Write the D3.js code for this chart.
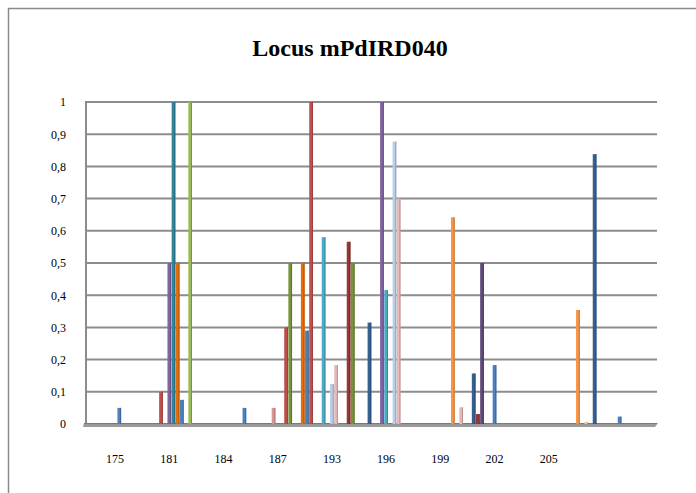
<!DOCTYPE html>
<html>
<head>
<meta charset="utf-8">
<script src="https://cdn.jsdelivr.net/npm/d3@7"></script>
<style>
  html, body { margin: 0; padding: 0; background: #fff; }
  svg { display: block; }
  text { font-family: "Liberation Serif", "Times New Roman", serif; fill: #000; }
</style>
</head>
<body>
<div class="chart"></div>
<script>
// allele size classes on the x axis (last slot carries no label)
const alleles = ["175", "181", "184", "187", "193", "196", "199", "202", "205", "208"];
const tickLabels = ["175", "181", "184", "187", "193", "196", "199", "202", "205", ""];
const yTicks = [0, 0.1, 0.2, 0.3, 0.4, 0.5, 0.6, 0.7, 0.8, 0.9, 1];

// number of populations drawn side by side in one allele cluster
const clusterSize = 13;

const palette = [
  "#4F81BD", "#C0504D", "#9BBB59", "#8064A2", "#4BACC6", "#F79646",
  "#376092", "#953735", "#77933C", "#604A7B", "#31859C", "#E46C0A",
  "#B9CDE5", "#D99694", "#E6B9B8", "#FAC090",
];

// [allele, population slot in cluster, frequency, colour index]
const freqs = [
  ["175", 7, 0.05, 0],
  ["181", 4, 0.1, 1],
  ["181", 6, 0.5, 3],
  ["181", 7, 1, 10],
  ["181", 8, 0.5, 11],
  ["181", 9, 0.075, 0],
  ["181", 11, 1, 2],
  ["184", 11, 0.05, 0],
  ["187", 5, 0.05, 13],
  ["187", 8, 0.3, 1],
  ["187", 9, 0.5, 8],
  ["187", 12, 0.5, 11],
  ["193", 0, 0.29, 0],
  ["193", 1, 1, 1],
  ["193", 4, 0.58, 4],
  ["193", 6, 0.124, 12],
  ["193", 7, 0.183, 14],
  ["193", 10, 0.566, 7],
  ["193", 11, 0.5, 8],
  ["196", 2, 0.315, 6],
  ["196", 5, 1, 3],
  ["196", 6, 0.416, 4],
  ["196", 8, 0.877, 12],
  ["196", 9, 0.7, 14],
  ["199", 9, 0.642, 5],
  ["199", 11, 0.052, 14],
  ["202", 1, 0.157, 6],
  ["202", 2, 0.031, 7],
  ["202", 3, 0.5, 9],
  ["202", 6, 0.183, 0],
  ["208", 0, 0.354, 5],
  ["208", 2, 0.006, 15],
  ["208", 4, 0.838, 6],
  ["208", 10, 0.023, 0],
];

const width = 696;
const height = 493;

function main() {
  const svg = d3.select(".chart")
    .append("svg")
    .attr("width", width)
    .attr("height", height);

  // chart frame (continues beyond the picture on the right and bottom)
  svg.append("rect")
    .attr("x", 8.5).attr("y", 8.5)
    .attr("width", 720).attr("height", 520)
    .attr("fill", "#fff")
    .attr("stroke", "#8a8a8a")
    .attr("stroke-width", 1.5);

  svg.append("text")
    .attr("x", 350).attr("y", 56)
    .attr("text-anchor", "middle")
    .style("font-size", "24px")
    .style("font-weight", "bold")
    .text("Locus mPdIRD040");

  const plotLeft = 86, plotRight = 657;
  const y = d3.scaleLinear().domain([0, 1]).range([424, 102]);
  const x0 = d3.scaleBand().domain(alleles).range([88, 630]);
  const x1 = d3.scaleBand().domain(d3.range(clusterSize)).range([0, x0.bandwidth()]);

  // gridlines on the back wall
  svg.append("g")
    .selectAll("line")
    .data(yTicks.filter((d) => d > 0))
    .join("line")
    .attr("x1", plotLeft).attr("x2", plotRight)
    .attr("y1", (d) => y(d)).attr("y2", (d) => y(d))
    .attr("stroke", "#8c8c8c")
    .attr("stroke-width", 2);

  svg.append("line")
    .attr("x1", plotLeft).attr("x2", plotLeft)
    .attr("y1", y(1) - 1).attr("y2", y(0))
    .attr("stroke", "#8c8c8c")
    .attr("stroke-width", 2);

  // floor
  svg.append("path")
    .attr("d", `M${plotLeft - 2},${y(0) - 1} L${plotRight + 1},${y(0) - 1} L${plotRight - 2},${y(0) + 3} L${plotLeft - 3},${y(0) + 3} Z`)
    .attr("fill", "#9a9a9a");
  svg.append("line")
    .attr("x1", plotLeft - 2).attr("x2", plotRight)
    .attr("y1", y(0) - 0.5).attr("y2", y(0) - 0.5)
    .attr("stroke", "#7a7a7a");

  const barW = x1.bandwidth() * 0.88;
  const bars = svg.append("g")
    .selectAll("g")
    .data(freqs)
    .join("g")
    .attr("transform", (d) => `translate(${x0(d[0]) + x1(d[1]) + (x1.bandwidth() - barW) / 2},0)`);

  bars.append("rect")
    .attr("x", 0)
    .attr("y", (d) => y(d[2]))
    .attr("width", barW)
    .attr("height", (d) => y(0) - y(d[2]))
    .attr("fill", (d) => palette[d[3]]);

  bars.append("rect")
    .attr("x", barW - 1)
    .attr("y", (d) => y(d[2]))
    .attr("width", 1)
    .attr("height", (d) => y(0) - y(d[2]))
    .attr("fill", (d) => d3.color(palette[d[3]]).darker(0.7));

  const comma = d3.formatLocale({ decimal: ",", thousands: ".", grouping: [3], currency: ["", ""] });
  const fmt = (d) => (d === 0 || d === 1 ? String(d) : comma.format(".1f")(d));

  const yAxis = svg.append("g")
    .attr("transform", "translate(66,0)")
    .call(d3.axisLeft(y).tickValues(yTicks).tickFormat(fmt).tickSize(0).tickPadding(0));
  yAxis.select(".domain").remove();
  yAxis.selectAll("text")
    .style("font-size", "12px")
    .style("font-family", "Liberation Serif, serif");

  const xAxis = svg.append("g")
    .attr("transform", `translate(0,${y(0)})`)
    .call(d3.axisBottom(x0).tickFormat((d, i) => tickLabels[i]).tickSize(0).tickPadding(30));
  xAxis.select(".domain").remove();
  xAxis.selectAll("text")
    .style("font-size", "12px")
    .style("font-family", "Liberation Serif, serif");
}

main();
</script>
</body>
</html>
